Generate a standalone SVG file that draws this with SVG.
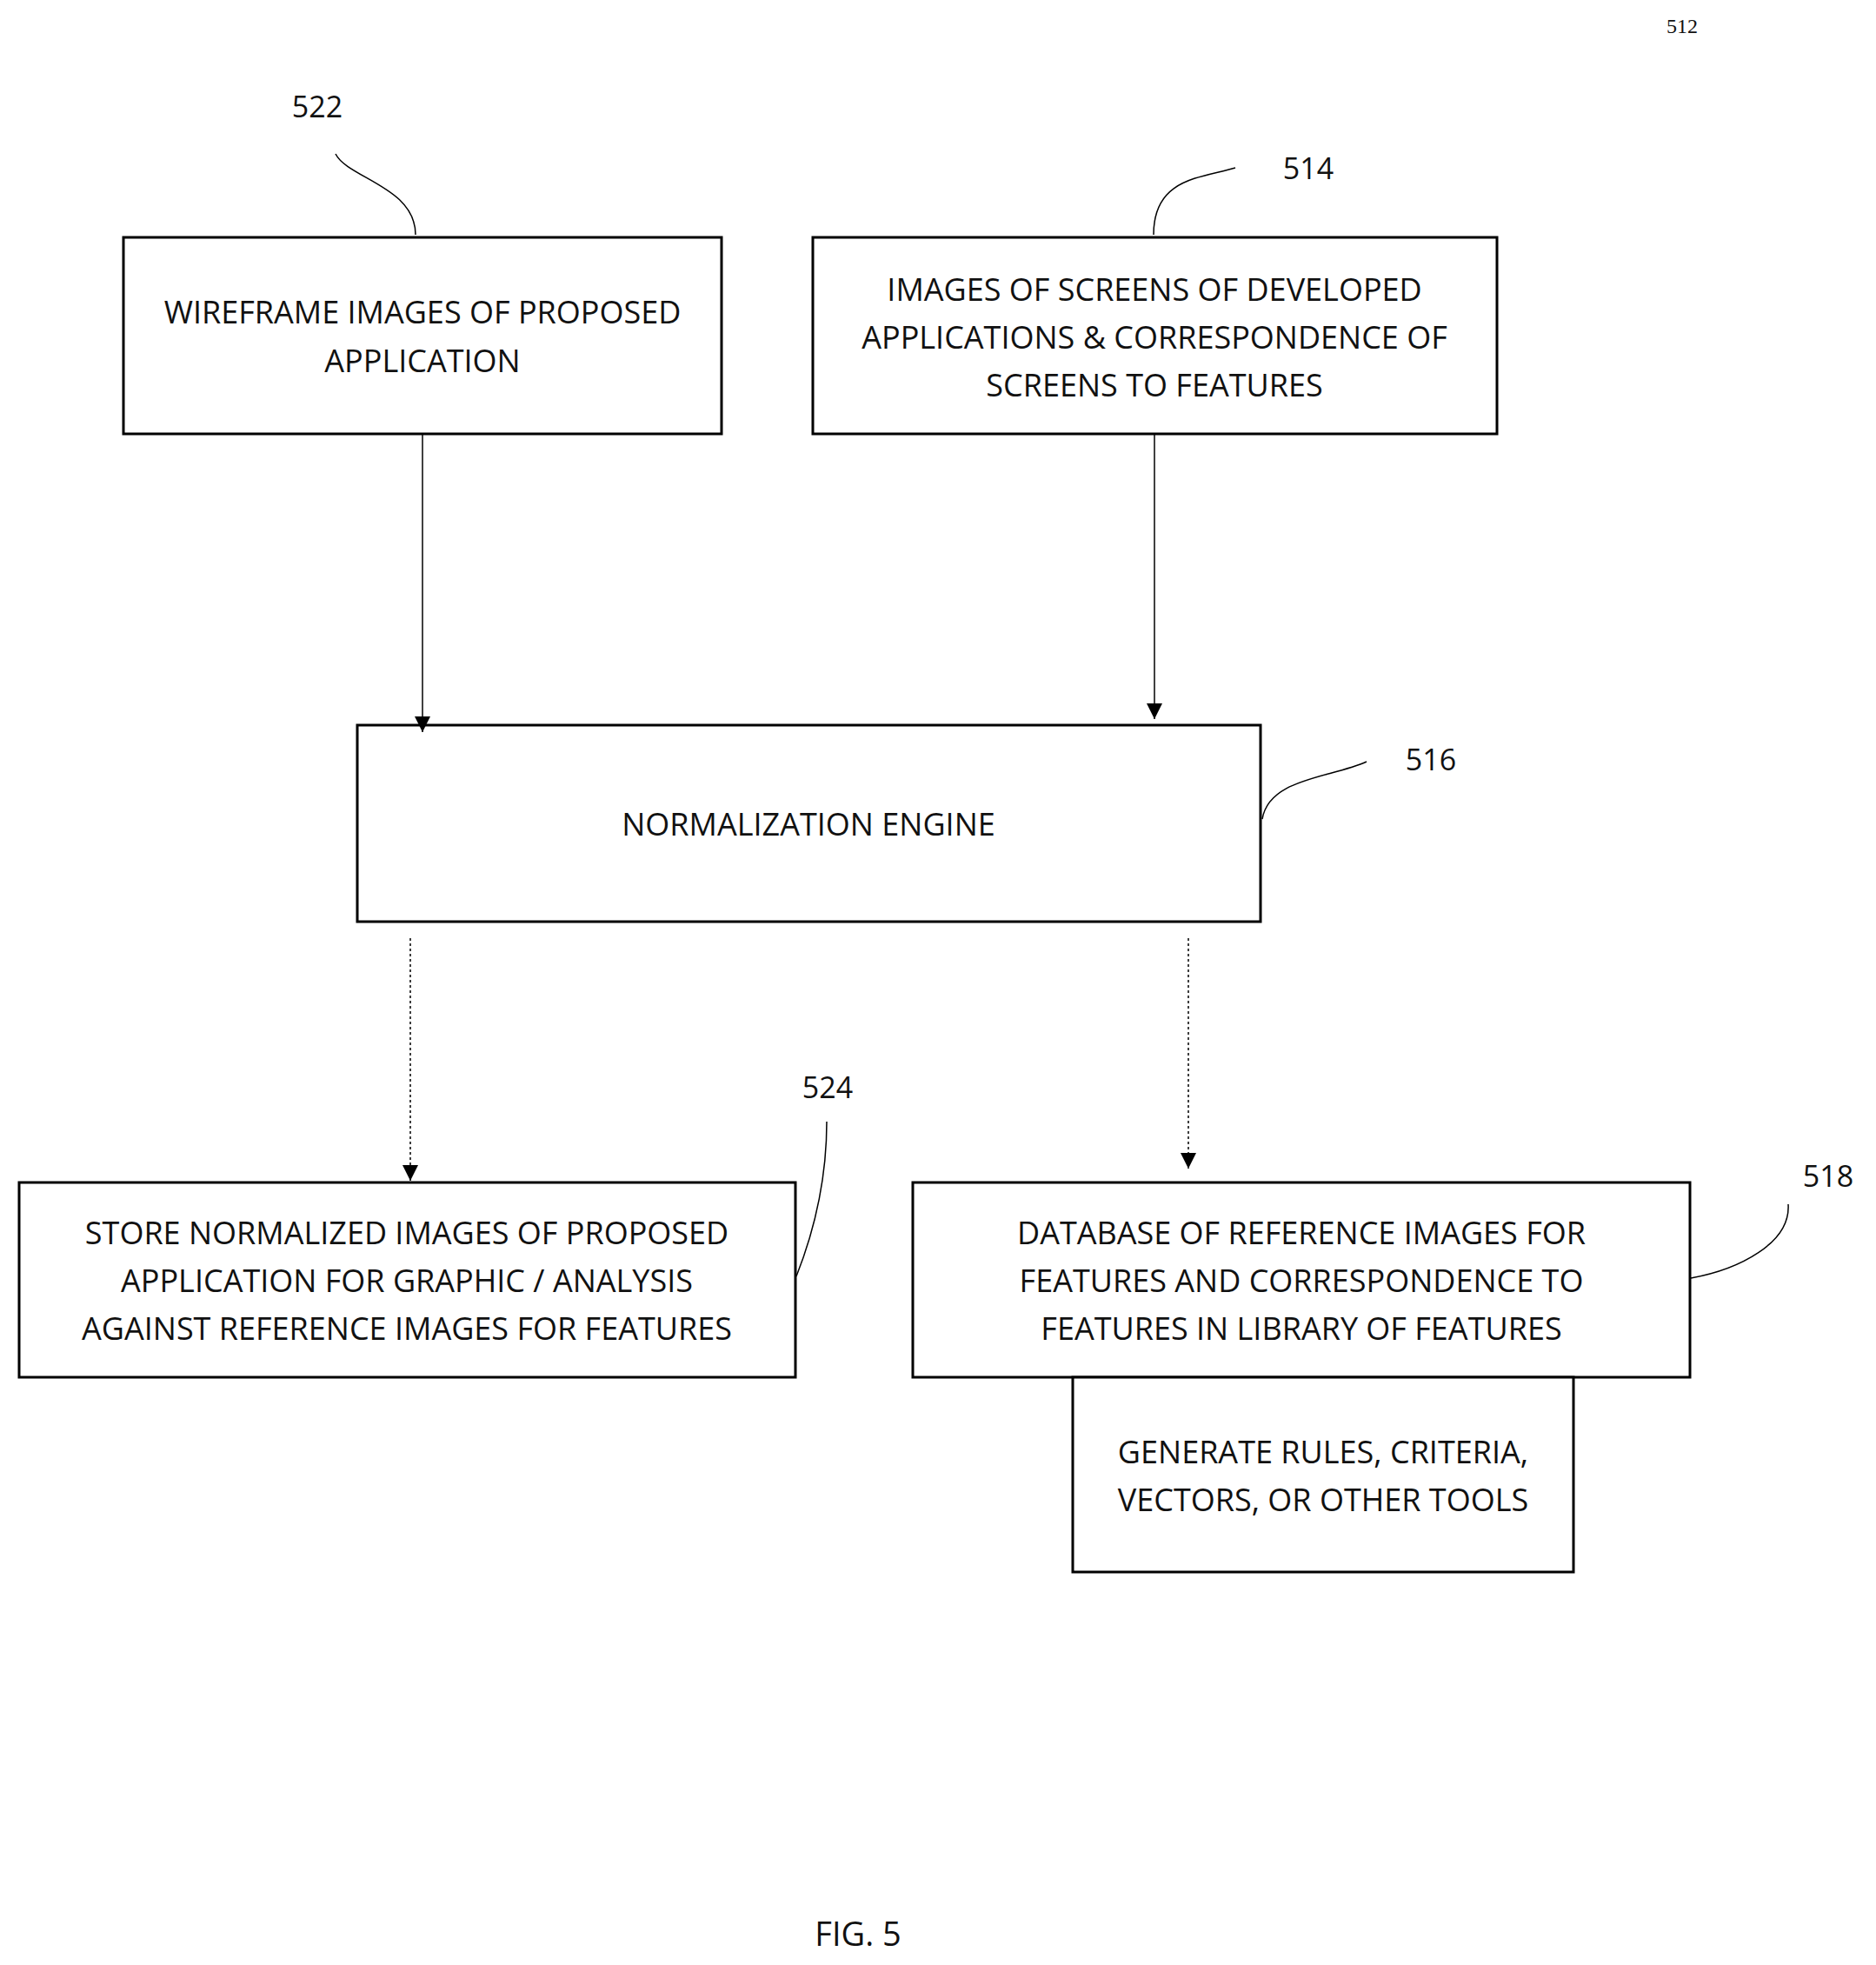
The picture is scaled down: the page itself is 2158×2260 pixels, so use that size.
<svg xmlns="http://www.w3.org/2000/svg" width="2158" height="2260" viewBox="0 0 2158 2260">
<style>
.b{fill:#fff;stroke:#000;stroke-width:3}
.t{font-family:"Open Sans",sans-serif;font-size:36px;text-anchor:middle;dominant-baseline:central;fill:#111}
.l{font-family:"Open Sans",sans-serif;font-size:34px;text-anchor:middle;dominant-baseline:central;fill:#111}
.c{fill:none;stroke:#000;stroke-width:1.5}
.d{fill:none;stroke:#000;stroke-width:1.5;stroke-dasharray:3 3}
</style>
<defs><marker id="a" viewBox="0 0 10 10" refX="10" refY="5" markerWidth="10" markerHeight="10" markerUnits="userSpaceOnUse" orient="auto"><path d="M0,0L10,5L0,10z"/></marker>
<marker id="a2" viewBox="0 0 10 10" refX="10" refY="5" markerWidth="18" markerHeight="18" markerUnits="userSpaceOnUse" orient="auto"><path d="M0,0L10,5L0,10z"/></marker></defs>
<text x="1935" y="30" class="l" style="font-family:'Liberation Serif',serif;font-size:24px">512</text>
<text x="365" y="122" class="l">522</text>
<text x="1505" y="193" class="l">514</text>
<text x="1646" y="873" class="l">516</text>
<text x="952" y="1250" class="l">524</text>
<text x="2103" y="1352" class="l">518</text>
<text x="987" y="2223" class="l" style="font-size:38px">FIG. 5</text>
<g id="n522"><rect class="b" x="142" y="273" width="688" height="226"/><text class="t" x="486" y="358">WIREFRAME IMAGES OF PROPOSED</text><text class="t" x="486" y="414">APPLICATION</text></g>
<g id="n514"><rect class="b" x="935" y="273" width="787" height="226"/><text class="t" x="1328" y="332">IMAGES OF SCREENS OF DEVELOPED</text><text class="t" x="1328" y="387">APPLICATIONS &amp; CORRESPONDENCE OF</text><text class="t" x="1328" y="442">SCREENS TO FEATURES</text></g>
<g id="n516"><rect class="b" x="411" y="834" width="1039" height="226"/><text class="t" x="930" y="947">NORMALIZATION ENGINE</text></g>
<g id="n524"><rect class="b" x="22" y="1360" width="893" height="224"/><text class="t" x="468" y="1417">STORE NORMALIZED IMAGES OF PROPOSED</text><text class="t" x="468" y="1472">APPLICATION FOR GRAPHIC / ANALYSIS</text><text class="t" x="468" y="1527">AGAINST REFERENCE IMAGES FOR FEATURES</text></g>
<g id="n518"><rect class="b" x="1050" y="1360" width="894" height="224"/><text class="t" x="1497" y="1417">DATABASE OF REFERENCE IMAGES FOR</text><text class="t" x="1497" y="1472">FEATURES AND CORRESPONDENCE TO</text><text class="t" x="1497" y="1527">FEATURES IN LIBRARY OF FEATURES</text></g>
<g id="gen"><rect class="b" x="1234" y="1584" width="576" height="224"/><text class="t" x="1522" y="1669">GENERATE RULES, CRITERIA,</text><text class="t" x="1522" y="1724">VECTORS, OR OTHER TOOLS</text></g>
<g id="connectors">
<path class="c" d="M486,499V842" marker-end="url(#a2)"/>
<path class="c" d="M1328,499V827" marker-end="url(#a2)"/>
<path class="d" d="M472,1079V1358" marker-end="url(#a2)"/>
<path class="d" d="M1367,1079V1344" marker-end="url(#a2)"/>
<path class="c" d="M386,177C400,205 478,215 478,270"/>
<path class="c" d="M1421,193C1380,205 1327,205 1327,270"/>
<path class="c" d="M1572,876C1530,895 1460,895 1452,942"/>
<path class="c" d="M951,1290C951,1360 935,1420 916,1468"/>
<path class="c" d="M2057,1385C2060,1430 2000,1460 1945,1470"/>
</g>
</svg>
